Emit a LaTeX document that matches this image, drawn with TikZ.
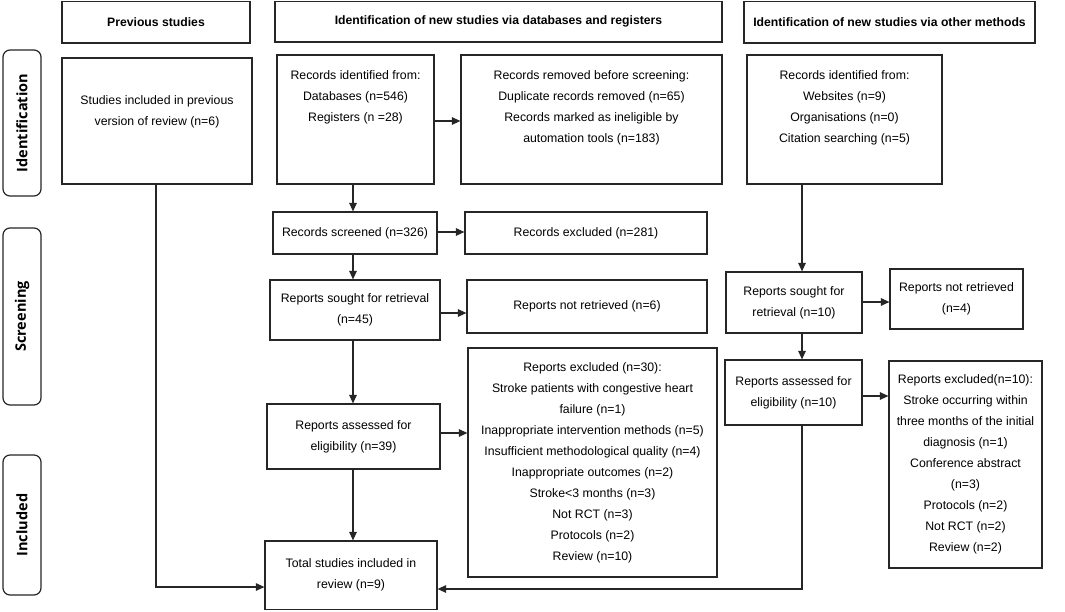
\documentclass[tikz,border=0pt]{standalone}
\usepackage{fontspec}
\setmainfont{Liberation Sans}
\newfontfamily\sidefont{Open Sans}
\usetikzlibrary{arrows.meta}
\tikzset{
  box/.style={draw=black!85, line width=1.2pt, inner sep=0pt, align=center,
    font=\fontsize{12.3}{21}\selectfont},
  txt/.style={inner sep=0pt, align=center, font=\fontsize{12.3}{21}\selectfont},
  hdr/.style={draw=black!85, line width=1.2pt, inner sep=0pt, align=center,
    font=\fontsize{12.2}{14}\selectfont\bfseries},
  side/.style={draw=black!85, line width=1.2pt, rounded corners=7pt, inner sep=0pt},
  sidetxt/.style={rotate=90, inner sep=0pt, font=\sidefont\fontsize{14.5}{16}\selectfont\bfseries},
  arr/.style={draw=black!85, line width=1.2pt, -{Triangle[length=8.5pt,width=7.5pt]}},
  ln/.style={draw=black!85, line width=1.2pt}
}
% \bx{name}{x1}{y1}{x2}{y2}{text}
\newcommand\bx[7][box]{\node[#1, minimum width={(#5-#3)*1pt}, minimum height={(#6-#4)*1pt}] (#2) at ({(#3+#5)/2},{(#4+#6)/2}) {#7};}
\begin{document}
\begin{tikzpicture}[x=1pt,y=-1pt]
\useasboundingbox[fill=white] (0,0) rectangle (1065,611);
% headers
\bx[hdr]{hprev}{62}{1.5}{250}{43}{Previous studies}
\bx[hdr]{hdb}{275}{1.5}{722}{42}{Identification of new studies via databases and registers}
\bx[hdr]{hoth}{744}{1.5}{1035}{43}{Identification of new studies via other methods}
% side labels
\bx[side]{sid}{3}{50}{41}{196}{}
\node[sidetxt] (sidt) at (sid.center) {Identification};
\bx[side]{sscr}{3}{228}{41}{405}{}
\node[sidetxt] (sscrt) at (sscr.center) {Screening};
\bx[side]{sinc}{3}{455}{41}{595}{}
\node[sidetxt] (sinct) at (sinc.center) {Included};
% identification row
\bx{prev}{62}{58}{252}{184}{}
\node[txt] (prevt) at (157,111.5) {Studies included in previous\\version of review (n=6)};
\bx{recid}{277}{55}{434}{184}{}
\node[txt] (recidt) at (355.5,97) {Records identified from:\\Databases (n=546)\\Registers (n =28)};
\bx{removed}{461}{55}{722}{184}{}
\node[txt] (removedt) at (591.5,107.5) {Records removed before screening:\\Duplicate records removed (n=65)\\Records marked as ineligible by\\automation tools (n=183)};
\bx{orec}{747}{55}{942}{184}{}
\node[txt] (orect) at (844.5,107.5) {Records identified from:\\Websites (n=9)\\Organisations (n=0)\\Citation searching (n=5)};
% screening
\bx{screened}{273}{212}{437}{254}{Records screened (n=326)}
\bx{rexcl}{465}{212}{707}{254}{Records excluded (n=281)}
\bx{sought}{270}{280}{440}{340}{Reports sought for retrieval\\(n=45)}
\bx{notret}{467}{280}{707}{333}{Reports not retrieved (n=6)}
\bx{osought}{726}{272}{862}{333}{Reports sought for\\retrieval (n=10)}
\bx{onotret}{890}{269}{1023}{329}{Reports not retrieved\\(n=4)}
\bx{excl}{468}{348}{717}{577}{Reports excluded (n=30):\\Stroke patients with congestive heart\\failure (n=1)\\Inappropriate intervention methods (n=5)\\Insufficient methodological quality (n=4)\\Inappropriate outcomes (n=2)\\Stroke<3 months (n=3)\\Not RCT (n=3)\\Protocols (n=2)\\Review (n=10)}
\bx{assessed}{267}{404}{440}{469}{Reports assessed for\\eligibility (n=39)}
\bx{oass}{725}{360}{862}{425}{Reports assessed for\\eligibility (n=10)}
\bx{oexcl}{889}{361}{1042}{568}{Reports excluded(n=10):\\Stroke occurring within\\three months of the initial\\diagnosis (n=1)\\Conference abstract\\(n=3)\\Protocols (n=2)\\Not RCT (n=2)\\Review (n=2)}
\bx{total}{265}{541}{437}{609.5}{Total studies included in\\review (n=9)}
% column / row guides
\coordinate (cp) at (156,0);
\coordinate (cdb) at (353,0);
\coordinate (co) at (802,0);
\coordinate (r1) at (0,121);
\coordinate (r2) at (0,232);
\coordinate (r3) at (0,313);
\coordinate (r4) at (0,433);
\coordinate (r5) at (0,302);
\coordinate (r6) at (0,396);
\coordinate (r7) at (0,587);
\coordinate (r8) at (0,589);
% connectors
\draw[arr] (recid.south -| cdb) -- (screened.north -| cdb);
\draw[arr] (recid.east |- r1) -- (removed.west |- r1);
\draw[arr] (screened.east |- r2) -- (rexcl.west |- r2);
\draw[arr] (screened.south -| cdb) -- (sought.north -| cdb);
\draw[arr] (sought.east |- r3) -- (notret.west |- r3);
\draw[arr] (sought.south -| cdb) -- (assessed.north -| cdb);
\draw[arr] (assessed.east |- r4) -- (excl.west |- r4);
\draw[arr] (assessed.south -| cdb) -- (total.north -| cdb);
\draw[arr] (prev.south -| cp) |- (total.west |- r7);
\draw[arr] (orec.south -| co) -- (osought.north -| co);
\draw[arr] (osought.east |- r5) -- (onotret.west |- r5);
\draw[arr] (osought.south -| co) -- (oass.north -| co);
\draw[arr] (oass.east |- r6) -- (oexcl.west |- r6);
\draw[arr] (oass.south -| co) |- (total.east |- r8);
\end{tikzpicture}
\end{document}
